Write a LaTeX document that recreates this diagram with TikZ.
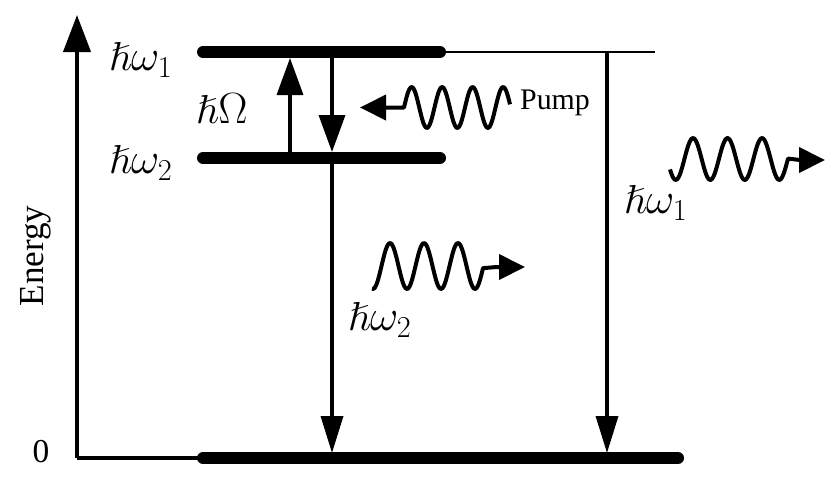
\documentclass[tikz,border=0pt]{standalone}
\usepackage{amsmath}
\usepackage{amssymb}
\usepackage{fontspec}
\setmainfont{Liberation Serif}
\usetikzlibrary{arrows.meta}

\tikzset{
  level/.style={line width=2.4mm, line cap=round},
  trans/.style={line width=0.7mm, -{Triangle[length=7.4mm,width=5.2mm]}},
  photon/.style={line width=0.8mm, line join=round},
  wleft/.style={{Triangle[length=5.2mm,width=5mm]}-},
  wright/.style={-{Triangle[length=5.2mm,width=5mm]}},
  lbl/.style={font=\fontsize{23}{23}\selectfont}
}

\begin{document}
\begin{tikzpicture}[x=0.2mm, y=-0.2mm]
      \useasboundingbox (0,0) rectangle (830,478);

      \coordinate (o) at (77,458);
      \coordinate (top) at (77,15);
      \coordinate (g0) at (203,458);
      \coordinate (g1) at (678,458);
      \coordinate (a0) at (203,52);
      \coordinate (a1) at (440,52);
      \coordinate (a2) at (655,52);
      \coordinate (b0) at (203,158);
      \coordinate (b1) at (440,158);

      \draw [line width=0.8mm, -{Triangle[length=7.4mm,width=5.4mm]}] (o) -- (top);
      \draw [line width=0.8mm] (o) -- (g0);
      \draw [level] (g0) -- (g1);
      \draw [level] (a0) -- (a1);
      \draw [level] (b0) -- (b1);
      \draw [line width=0.5mm] (a1) -- (a2);

      \coordinate (up0) at (290,158);
      \coordinate (up1) at (290,58);
      \coordinate (dn0) at (332,52);
      \coordinate (dn1) at (332,152);
      \coordinate (dn2) at (332,158);
      \coordinate (dn3) at (332,453);
      \coordinate (rt0) at (607,52);
      \coordinate (rt1) at (607,453);

      \draw [trans] (up0) -- (up1);
      \draw [trans] (dn0) -- (dn1);
      \draw [trans, -{Triangle[length=7.4mm,width=4.4mm]}] (dn2) -- (dn3);
      \draw [trans, -{Triangle[length=7.4mm,width=4.4mm]}] (rt0) -- (rt1);

      \node[lbl](w1) at (141,60){$\hslash\omega_1$};
      \node[lbl](w2) at (141,163){$\hslash\omega_2$};
      \node[lbl](W) at (222,109){$\hslash\Omega$};
      \node[lbl](w2b) at (380,320){$\hslash\omega_2$};
      \node[lbl](w1b) at (656,203){$\hslash\omega_1$};
      \node[font=\fontsize{17}{17}\selectfont](pump) at (555,103){Pump};
      \node[font=\fontsize{19}{19}\selectfont](zero) at (41,452){0};
      \node[font=\fontsize{20}{20}\selectfont, rotate=90](energy) at (36,256){Energy};

      \draw [photon, wleft] (360,107.5) -- (404,107.5)
        -- plot[domain=404:510, samples=80, smooth] (\x, {107.5 - 20.5*sin(11.803*(\x-404))});

      \draw [photon, wright] plot[domain=372:483, samples=80, smooth] (\x, {266 - 23*sin(10.588*(\x-381.5))})
        -- (497,267) -- (525,267);

      \draw [photon, wright] plot[domain=670:788, samples=80, smooth] (\x, {159 - 21*sin(10.435*(\x-684.4))})
        -- (800,160) -- (825,160);
\end{tikzpicture}
\end{document}
